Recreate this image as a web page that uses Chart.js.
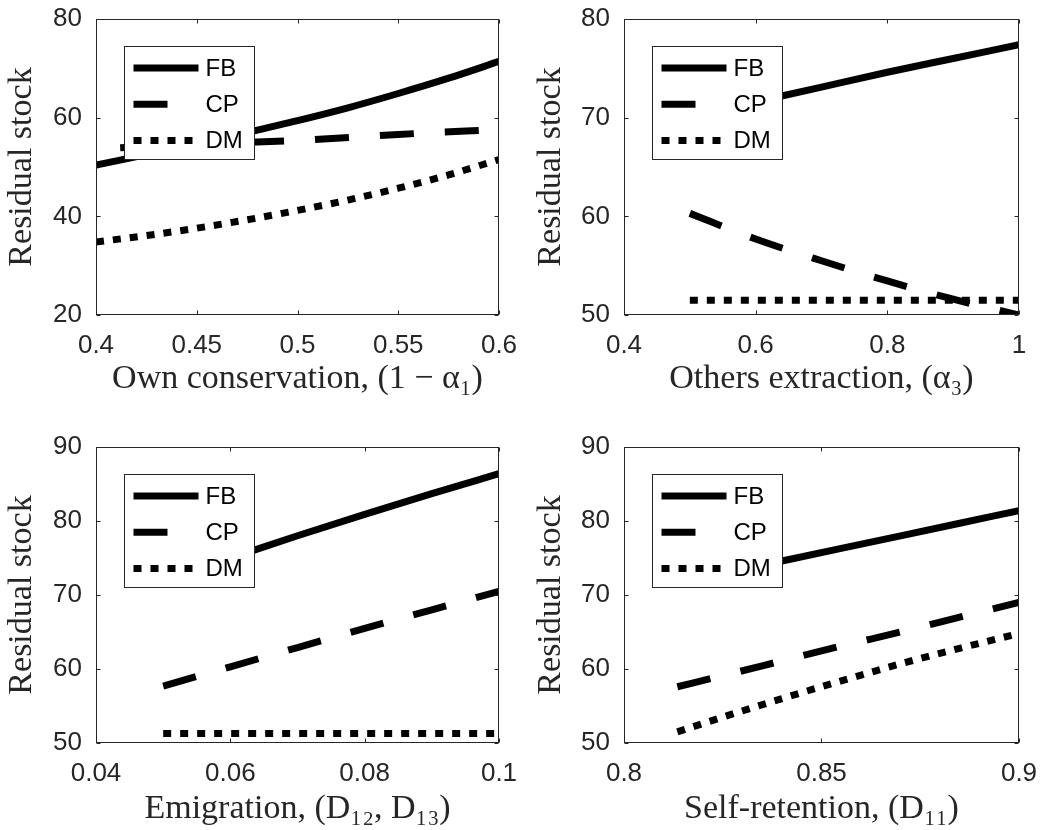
<!DOCTYPE html>
<html>
<head>
<meta charset="utf-8">
<script src="https://cdn.jsdelivr.net/npm/chart.js@4.4.0/dist/chart.umd.min.js"></script>
<style>
  html, body { margin: 0; padding: 0; background: #fff; }
  #fig { position: relative; width: 1052px; height: 830px; overflow: hidden; }
  #fig canvas { position: absolute; }
</style>
</head>
<body>
<div id="fig">
  <canvas id="p1" width="520" height="415" style="left:0;top:0"></canvas>
  <canvas id="p2" width="532" height="415" style="left:520px;top:0"></canvas>
  <canvas id="p3" width="520" height="415" style="left:0;top:415px"></canvas>
  <canvas id="p4" width="532" height="415" style="left:520px;top:415px"></canvas>
</div>
<script>
// ---- values ----

// top left: own conservation
const consX       = [0.4, 0.425, 0.45, 0.475, 0.5, 0.525, 0.55, 0.575, 0.6];
const consFB      = [50.4, 52.5, 54.7, 57.0, 59.4, 62.0, 64.9, 68.0, 71.4];
const consCPX     = [0.412, 0.45, 0.5, 0.55, 0.6];
const consCP      = [53.9, 54.6, 55.4, 56.6, 57.6];
const consDM      = [34.8, 36.1, 37.6, 39.3, 41.2, 43.3, 45.7, 48.4, 51.5];
const consXTicks  = [0.4, 0.45, 0.5, 0.55, 0.6];
const consXLabels = ['0.4', '0.45', '0.5', '0.55', '0.6'];
const consYTicks  = [20, 40, 60, 80];

// top right: others extraction
const extrX       = [0.5, 0.6, 0.7, 0.8, 0.9, 1.0];
const extrFB      = [70.1, 71.6, 73.1, 74.6, 76.0, 77.4];
const extrCP      = [60.3, 57.7, 55.5, 53.45, 51.6, 50.0];
const extrDM      = [51.5, 51.5, 51.5, 51.5, 51.5, 51.5];
const extrXTicks  = [0.4, 0.6, 0.8, 1];
const extrXLabels = ['0.4', '0.6', '0.8', '1'];
const extrYTicks  = [50, 60, 70, 80];

// bottom left: emigration
const emigX       = [0.05, 0.06, 0.07, 0.08, 0.09, 0.1];
const emigFB      = [72.0, 75.0, 78.0, 80.9, 83.7, 86.4];
const emigCP      = [57.7, 60.3, 62.9, 65.5, 68.0, 70.5];
const emigDM      = [51.3, 51.3, 51.3, 51.3, 51.3, 51.3];
const emigXTicks  = [0.04, 0.06, 0.08, 0.1];
const emigXLabels = ['0.04', '0.06', '0.08', '0.1'];
const emigYTicks  = [50, 60, 70, 80, 90];

// bottom right: self-retention
const selfX       = [0.8135, 0.825, 0.84, 0.855, 0.87, 0.885, 0.9];
const selfFB      = [71.6, 72.9, 74.6, 76.3, 78.0, 79.7, 81.4];
const selfCP      = [57.6, 59.1, 61.1, 63.1, 65.0, 67.0, 69.0];
const selfDM      = [51.5, 53.5, 56.0, 58.4, 60.7, 62.8, 64.8];
const selfXTicks  = [0.8, 0.85, 0.9];
const selfXLabels = ['0.8', '0.85', '0.9'];
const selfYTicks  = [50, 60, 70, 80, 90];

const seriesNames = ['FB', 'CP', 'DM'];
const dashes      = [[], [34, 31], [8, 9]];

const AXIS = '#262626';

// box round the axes with inward tick marks, then the framed legend
const matlabAxes = {
    id: 'matlabAxes',
    afterDatasetsDraw(chart) {
        const { ctx, chartArea: a, scales } = chart;
        const L = Math.round(a.left) + 0.5, R = Math.round(a.right) - 0.5;
        const T = Math.round(a.top) + 0.5, B = Math.round(a.bottom) - 0.5;
        ctx.save();
        ctx.strokeStyle = AXIS;
        ctx.lineWidth = 1;
        ctx.strokeRect(L, T, R - L, B - T);
        ctx.beginPath();
        scales.x.ticks.forEach(t => {
            const px = Math.round(scales.x.getPixelForValue(t.value)) + 0.5;
            ctx.moveTo(px, B); ctx.lineTo(px, B - 4);
            ctx.moveTo(px, T); ctx.lineTo(px, T + 4);
        });
        scales.y.ticks.forEach(t => {
            const py = Math.round(scales.y.getPixelForValue(t.value)) + 0.5;
            ctx.moveTo(L, py); ctx.lineTo(L + 4, py);
            ctx.moveTo(R, py); ctx.lineTo(R - 4, py);
        });
        ctx.stroke();

        // legend
        const bx = Math.round(a.left + 28) + 0.5, by = Math.round(a.top + 27) + 0.5;
        ctx.fillStyle = '#fff';
        ctx.fillRect(bx, by, 130, 113);
        ctx.strokeRect(bx, by, 130, 113);
        chart.data.datasets.forEach((ds, i) => {
            const y = by + 21.5 + i * 36.3;
            ctx.beginPath();
            ctx.setLineDash(ds.borderDash || []);
            ctx.lineCap = 'butt';
            ctx.lineWidth = ds.borderWidth;
            ctx.strokeStyle = ds.borderColor;
            ctx.moveTo(bx + 9, y); ctx.lineTo(bx + 74, y);
            ctx.stroke();
            ctx.setLineDash([]);
            ctx.fillStyle = '#000';
            ctx.font = '24px "Liberation Sans", Arial, sans-serif';
            ctx.textBaseline = 'middle';
            ctx.textAlign = 'left';
            ctx.fillText(ds.label, bx + 81, y + 1);
        });
        ctx.restore();
    }
};

function series(i, xs, ys) {
    return {
        label: seriesNames[i],
        data: xs.map((x, k) => ({ x: x, y: ys[k] })),
        borderColor: '#000',
        borderWidth: 7,
        borderDash: dashes[i],
        borderCapStyle: 'butt',
        borderJoinStyle: 'round',
        cubicInterpolationMode: 'monotone',
        pointRadius: 0,
        fill: false,
        clip: 0,
    };
}

function panel(id, o) {
    const tickFont  = { family: '"Liberation Sans", Arial, sans-serif', size: 26 };
    const titleFont = { family: '"Liberation Serif", "Times New Roman", serif', size: 34 };
    new Chart(document.getElementById(id), {
        type: 'line',
        data: {
            datasets: [
                series(0, o.x, o.fb),
                series(1, o.cpX || o.x, o.cp),
                series(2, o.x, o.dm),
            ],
        },
        options: {
            responsive: false,
            animation: false,
            events: [],
            layout: { padding: { left: 0, top: o.top, right: o.right, bottom: 0 } },
            plugins: { legend: { display: false }, tooltip: { enabled: false } },
            scales: {
                x: {
                    type: 'linear',
                    min: o.xTicks[0], max: o.xTicks[o.xTicks.length - 1],
                    afterBuildTicks: s => { s.ticks = o.xTicks.map(v => ({ value: v })); },
                    afterFit: s => { s.height = o.xH; s.paddingLeft = 0; s.paddingRight = 0; },
                    grid: { display: false, drawTicks: false },
                    border: { display: false },
                    ticks: {
                        autoSkip: false, maxRotation: 0, padding: 15,
                        color: AXIS, font: tickFont,
                        callback: (v, i) => o.xLabels[i],
                    },
                    title: {
                        display: true, text: o.xTitle, color: AXIS, font: titleFont,
                        padding: { top: 0, bottom: o.xTitlePad },
                    },
                },
                y: {
                    type: 'linear',
                    min: o.yTicks[0], max: o.yTicks[o.yTicks.length - 1],
                    afterBuildTicks: s => { s.ticks = o.yTicks.map(v => ({ value: v })); },
                    afterFit: s => { s.width = o.yW; s.paddingTop = 0; s.paddingBottom = 0; },
                    grid: { display: false, drawTicks: false },
                    border: { display: false },
                    ticks: {
                        autoSkip: false, padding: 14,
                        color: AXIS, font: tickFont,
                        callback: v => String(v),
                    },
                    title: {
                        display: true, text: 'Residual stock', color: AXIS, font: titleFont,
                        padding: { top: o.yTitlePad, bottom: 0 },
                    },
                },
            },
        },
        plugins: [matlabAxes],
    });
}

panel('p1', {
    x: consX, fb: consFB, cpX: consCPX, cp: consCP, dm: consDM,
    xTicks: consXTicks, xLabels: consXLabels, yTicks: consYTicks,
    xTitle: 'Own conservation, (1 \u2212 \u03b1\u2081)',
    top: 19, right: 21, xH: 100, yW: 96, xTitlePad: 16, yTitlePad: 2,
});
panel('p2', {
    x: extrX, fb: extrFB, cp: extrCP, dm: extrDM,
    xTicks: extrXTicks, xLabels: extrXLabels, yTicks: extrYTicks,
    xTitle: 'Others extraction, (\u03b1\u2083)',
    top: 19, right: 33, xH: 100, yW: 104, xTitlePad: 16, yTitlePad: 11,
});
panel('p3', {
    x: emigX, fb: emigFB, cp: emigCP, dm: emigDM,
    xTicks: emigXTicks, xLabels: emigXLabels, yTicks: emigYTicks,
    xTitle: 'Emigration, (D\u2081\u2082, D\u2081\u2083)',
    top: 32, right: 21, xH: 87, yW: 96, xTitlePad: 1, yTitlePad: 2,
});
panel('p4', {
    x: selfX, fb: selfFB, cp: selfCP, dm: selfDM,
    xTicks: selfXTicks, xLabels: selfXLabels, yTicks: selfYTicks,
    xTitle: 'Self-retention, (D\u2081\u2081)',
    top: 32, right: 33, xH: 87, yW: 104, xTitlePad: 1, yTitlePad: 11,
});
</script>
</body>
</html>
